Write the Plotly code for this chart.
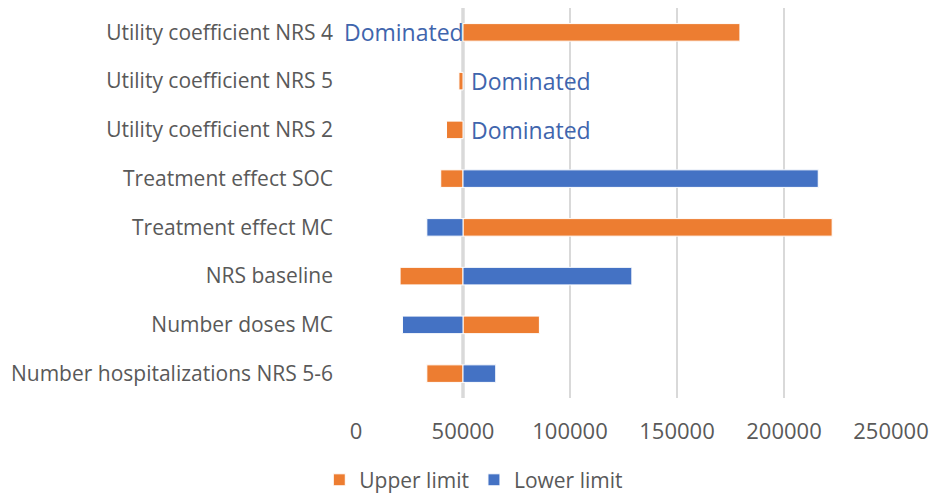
import plotly.graph_objects as go

# tornado data (ICER, base case ~50000)
base_value = 50000
parameters = [
    "Utility coefficient NRS 4",
    "Utility coefficient NRS 5",
    "Utility coefficient NRS 2",
    "Treatment effect SOC",
    "Treatment effect MC",
    "NRS baseline",
    "Number doses MC",
    "Number hospitalizations NRS 5-6",
]
upper_limit = [179400, 48100, 42300, 39600, 222500, 20600, 85700, 33100]
lower_limit = [None, None, None, 216000, 33100, 128900, 21700, 65300]
# label shown where a limit gives a dominated result
lower_label = ["Dominated", "Dominated", "Dominated", "", "", "", "", ""]
label_side = ["left", "right", "right", "", "", "", "", ""]

x_ticks = [0, 50000, 100000, 150000, 200000, 250000]

orange = "#ED7D31"
blue = "#4472C4"
grey_text = "#595959"
font_name = "Open Sans, Liberation Sans, sans-serif"


def offsets(values):
    return [None if v is None else v - base_value for v in values]


fig = go.Figure()
fig.add_trace(go.Bar(
    y=parameters, x=offsets(upper_limit), base=base_value,
    orientation="h", name="Upper limit",
    marker=dict(color=orange, line=dict(color="white", width=1)),
    width=0.36,
))
fig.add_trace(go.Bar(
    y=parameters, x=offsets(lower_limit), base=base_value,
    orientation="h", name="Lower limit",
    marker=dict(color=blue, line=dict(color="white", width=1)),
    width=0.36,
))

for name, text, side in zip(parameters, lower_label, label_side):
    if not text:
        continue
    fig.add_annotation(
        x=base_value, y=name, text=text, showarrow=False,
        xanchor="right" if side == "left" else "left",
        xshift=3 if side == "left" else 6,
        font=dict(color="#3F65AD", size=23, family=font_name),
    )

# vertical axis crossing at the base case
fig.add_vline(x=base_value, line=dict(color="#C8C8C8", width=3), layer="below")

fig.update_layout(
    width=929, height=495,
    margin=dict(l=356, r=38, t=8, b=97, autoexpand=False),
    barmode="overlay",
    plot_bgcolor="white", paper_bgcolor="white",
    font=dict(family=font_name, size=21, color=grey_text),
    showlegend=True,
    legend=dict(
        orientation="h", xref="container", yref="container",
        x=0.51, y=0.03, xanchor="center", yanchor="middle",
        font=dict(size=21, color=grey_text), traceorder="normal",
        itemwidth=30, tracegroupgap=0,
    ),
)
fig.update_xaxes(
    range=[0, 250000], tickvals=x_ticks, ticktext=[str(v) for v in x_ticks],
    showgrid=True, gridcolor="#D9D9D9", gridwidth=2,
    zeroline=False, showline=False, ticks="", ticklabelstandoff=18,
    tickfont=dict(size=22, color=grey_text), automargin=False,
)
fig.update_yaxes(
    categoryorder="array", categoryarray=parameters, autorange="reversed",
    showgrid=False, zeroline=False, showline=False, ticks="",
    ticklabelstandoff=22, tickfont=dict(size=21, color=grey_text),
    automargin=False,
)

# drop the default page margin so the chart fills the window
fig.write_html(
    "out.html",
    config={"displayModeBar": False},
    post_script="document.body.style.margin = '0';",
)
